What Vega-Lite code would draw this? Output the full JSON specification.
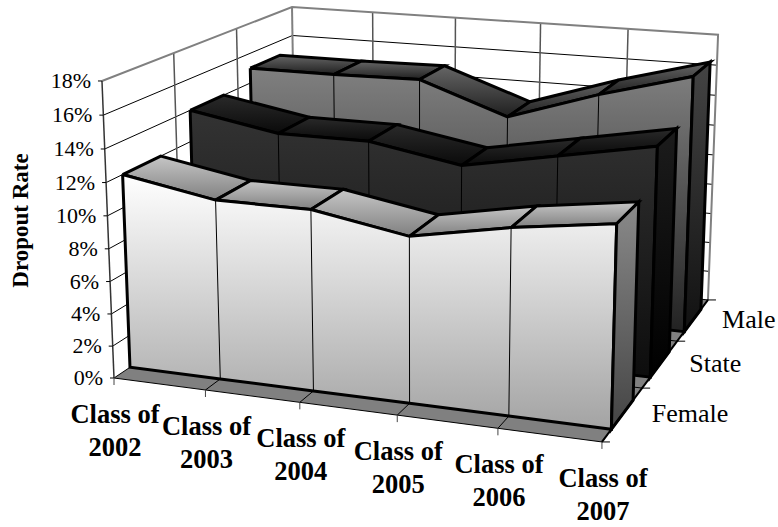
{"$schema":"https://vega.github.io/schema/vega-lite/v6.json","width":778,"height":527,"padding":0,"autosize":"none","background":"white","config":{"view":{"stroke":null}},
"datasets":{
"rates":[
{"series":"Female","year":2002,"value":12.0},{"series":"Female","year":2003,"value":11.0},{"series":"Female","year":2004,"value":11.0},{"series":"Female","year":2005,"value":10.0},{"series":"Female","year":2006,"value":11.1},{"series":"Female","year":2007,"value":11.9},
{"series":"State","year":2002,"value":14.0},{"series":"State","year":2003,"value":13.0},{"series":"State","year":2004,"value":13.0},{"series":"State","year":2005,"value":12.0},{"series":"State","year":2006,"value":13.1},{"series":"State","year":2007,"value":14.2},
{"series":"Male","year":2002,"value":15.0},{"series":"Male","year":2003,"value":15.0},{"series":"Male","year":2004,"value":15.1},{"series":"Male","year":2005,"value":13.1},{"series":"Male","year":2006,"value":15.0},{"series":"Male","year":2007,"value":16.6}],
"pct":[{"pct":0},{"pct":2},{"pct":4},{"pct":6},{"pct":8},{"pct":10},{"pct":12},{"pct":14},{"pct":16},{"pct":18}],
"classes":[{"year":2002,"label":"Class of\n2002"},{"year":2003,"label":"Class of\n2003"},{"year":2004,"label":"Class of\n2004"},{"year":2005,"label":"Class of\n2005"},{"year":2006,"label":"Class of\n2006"},{"year":2007,"label":"Class of\n2007"}],
"names":[{"name":"Female","idx":0},{"name":"State","idx":1},{"name":"Male","idx":2}],
"depths":[{"d":0},{"d":1},{"d":2},{"d":3}]},
"encoding":{"x":{"field":"px","type":"quantitative","scale":{"domain":[0,778],"nice":false,"zero":false},"axis":null},
"y":{"field":"py","type":"quantitative","scale":{"domain":[0,527],"nice":false,"zero":false,"reverse":true},"axis":{"title":"Dropout Rate","titleFont":"Liberation Serif","titleFontSize":23,"titleFontWeight":"bold","titleColor":"#000","titleX":32,"titleY":220,"ticks":false,"labels":false,"domain":false,"grid":false}},
"order":{"field":"ord"},"detail":{"field":"id"}},
"layer":[
{"data":{"name":"pct"},"transform":[{"filter":"datum.pct>0&&datum.pct<18"},{"calculate":"[0,1,2]","as":"k"},{"flatten":["k"]},{"calculate":"datum.k==2?1:0","as":"u"},{"calculate":"datum.k==0?0:1","as":"s"},{"calculate":"datum.pct/18","as":"v"},{"calculate":"(114+441.3*datum.u+242.5*datum.s-15.9*datum.v)/(1-0.0775*datum.u+0.2044*datum.s-0.038*datum.v)","as":"px"},{"calculate":"(378+29.7*datum.u-69.7*datum.s-300.1*datum.v)/(1-0.0775*datum.u+0.2044*datum.s-0.038*datum.v)","as":"py"},{"calculate":"datum.k","as":"ord"},{"calculate":"''+datum.pct","as":"id"}],"mark":{"type":"line","stroke":"#000","strokeWidth":1}},
{"data":{"name":"classes"},"transform":[{"filter":"datum.year>2002&&datum.year<2007"},{"calculate":"[0,1]","as":"k"},{"flatten":["k"]},{"calculate":"(datum.year-2002)/5","as":"u"},{"calculate":"1","as":"s"},{"calculate":"datum.k","as":"v"},{"calculate":"(114+441.3*datum.u+242.5*datum.s-15.9*datum.v)/(1-0.0775*datum.u+0.2044*datum.s-0.038*datum.v)","as":"px"},{"calculate":"(378+29.7*datum.u-69.7*datum.s-300.1*datum.v)/(1-0.0775*datum.u+0.2044*datum.s-0.038*datum.v)","as":"py"},{"calculate":"datum.k","as":"ord"},{"calculate":"''+datum.year","as":"id"}],"mark":{"type":"line","stroke":"#555","strokeWidth":1.5}},
{"data":{"name":"depths"},"transform":[{"filter":"datum.d==1||datum.d==2"},{"calculate":"[0,1]","as":"k"},{"flatten":["k"]},{"calculate":"0","as":"u"},{"calculate":"datum.d/3","as":"s"},{"calculate":"datum.k","as":"v"},{"calculate":"(114+441.3*datum.u+242.5*datum.s-15.9*datum.v)/(1-0.0775*datum.u+0.2044*datum.s-0.038*datum.v)","as":"px"},{"calculate":"(378+29.7*datum.u-69.7*datum.s-300.1*datum.v)/(1-0.0775*datum.u+0.2044*datum.s-0.038*datum.v)","as":"py"},{"calculate":"datum.k","as":"ord"},{"calculate":"''+datum.d","as":"id"}],"mark":{"type":"line","stroke":"#555","strokeWidth":1.5}},
{"data":{"name":"pct"},"transform":[{"filter":"datum.pct==18"},{"calculate":"[0,1,2,3]","as":"k"},{"flatten":["k"]},{"calculate":"datum.k>=2?1:0","as":"u"},{"calculate":"datum.k==0?0:1","as":"s"},{"calculate":"datum.k==3?0:1","as":"v"},{"calculate":"(114+441.3*datum.u+242.5*datum.s-15.9*datum.v)/(1-0.0775*datum.u+0.2044*datum.s-0.038*datum.v)","as":"px"},{"calculate":"(378+29.7*datum.u-69.7*datum.s-300.1*datum.v)/(1-0.0775*datum.u+0.2044*datum.s-0.038*datum.v)","as":"py"},{"calculate":"datum.k","as":"ord"},{"calculate":"'w'","as":"id"}],"mark":{"type":"line","stroke":"#808080","strokeWidth":2}},
{"data":{"name":"pct"},"transform":[{"filter":"datum.pct==18"},{"calculate":"[0,1]","as":"k"},{"flatten":["k"]},{"calculate":"0","as":"u"},{"calculate":"1","as":"s"},{"calculate":"datum.k","as":"v"},{"calculate":"(114+441.3*datum.u+242.5*datum.s-15.9*datum.v)/(1-0.0775*datum.u+0.2044*datum.s-0.038*datum.v)","as":"px"},{"calculate":"(378+29.7*datum.u-69.7*datum.s-300.1*datum.v)/(1-0.0775*datum.u+0.2044*datum.s-0.038*datum.v)","as":"py"},{"calculate":"datum.k","as":"ord"},{"calculate":"'r'","as":"id"}],"mark":{"type":"line","stroke":"#808080","strokeWidth":2}},
{"data":{"name":"pct"},"transform":[{"filter":"datum.pct==0"},{"calculate":"[0,1,2,3,4]","as":"k"},{"flatten":["k"]},{"calculate":"(datum.k==1||datum.k==2)?1:0","as":"u"},{"calculate":"(datum.k==2||datum.k==3)?1:0","as":"s"},{"calculate":"0","as":"v"},{"calculate":"(114+441.3*datum.u+242.5*datum.s-15.9*datum.v)/(1-0.0775*datum.u+0.2044*datum.s-0.038*datum.v)","as":"px"},{"calculate":"(378+29.7*datum.u-69.7*datum.s-300.1*datum.v)/(1-0.0775*datum.u+0.2044*datum.s-0.038*datum.v)","as":"py"},{"calculate":"datum.k","as":"ord"},{"calculate":"'f'","as":"id"}],"mark":{"type":"line","fill":"#808080","stroke":"#000","strokeWidth":1}},
{"data":{"name":"classes"},"transform":[{"filter":"datum.year>2002&&datum.year<2007"},{"calculate":"[0,1]","as":"k"},{"flatten":["k"]},{"calculate":"(datum.year-2002)/5","as":"u"},{"calculate":"datum.k","as":"s"},{"calculate":"0","as":"v"},{"calculate":"(114+441.3*datum.u+242.5*datum.s-15.9*datum.v)/(1-0.0775*datum.u+0.2044*datum.s-0.038*datum.v)","as":"px"},{"calculate":"(378+29.7*datum.u-69.7*datum.s-300.1*datum.v)/(1-0.0775*datum.u+0.2044*datum.s-0.038*datum.v)","as":"py"},{"calculate":"datum.k","as":"ord"},{"calculate":"''+datum.year","as":"id"}],"mark":{"type":"line","stroke":"#000","strokeWidth":1}},
{"data":{"name":"depths"},"transform":[{"filter":"datum.d==1||datum.d==2"},{"calculate":"[0,1]","as":"k"},{"flatten":["k"]},{"calculate":"datum.k","as":"u"},{"calculate":"datum.d/3","as":"s"},{"calculate":"0","as":"v"},{"calculate":"(114+441.3*datum.u+242.5*datum.s-15.9*datum.v)/(1-0.0775*datum.u+0.2044*datum.s-0.038*datum.v)","as":"px"},{"calculate":"(378+29.7*datum.u-69.7*datum.s-300.1*datum.v)/(1-0.0775*datum.u+0.2044*datum.s-0.038*datum.v)","as":"py"},{"calculate":"datum.k","as":"ord"},{"calculate":"''+datum.d","as":"id"}],"mark":{"type":"line","stroke":"#000","strokeWidth":1}},

{"data":{"name":"rates"},"transform":[{"filter":"datum.series=='Male'"},{"window":[{"op":"lead","field":"value","as":"next"}],"sort":[{"field":"year"}]},{"filter":"datum.year<2007"},{"calculate":"[0,1,2,3,4]","as":"k"},{"flatten":["k"]},{"calculate":"(datum.year-2002+((datum.k==1||datum.k==2)?1:0))/5","as":"u"},{"calculate":"0.74+((datum.k==2||datum.k==3)?0.18:0)","as":"s"},{"calculate":"((datum.k==1||datum.k==2)?datum.next:datum.value)/18","as":"v"},{"calculate":"(114+441.3*datum.u+242.5*datum.s-15.9*datum.v)/(1-0.0775*datum.u+0.2044*datum.s-0.038*datum.v)","as":"px"},{"calculate":"(378+29.7*datum.u-69.7*datum.s-300.1*datum.v)/(1-0.0775*datum.u+0.2044*datum.s-0.038*datum.v)","as":"py"},{"calculate":"datum.k","as":"ord"},{"calculate":"''+datum.year","as":"id"}],"mark":{"type":"line","stroke":"#000","strokeWidth":3,"fill":{"gradient":"linear","x1":0,"y1":0,"x2":0,"y2":1,"stops":[{"offset":0,"color":"#666666"},{"offset":1,"color":"#1f1f1f"}]}}},
{"data":{"name":"rates"},"transform":[{"filter":"datum.series=='Male'"},{"calculate":"datum.year==2002?[0,1,2]:[0,1]","as":"k"},{"flatten":["k"]},{"calculate":"(datum.year-2002)/5","as":"u"},{"calculate":"0.74","as":"s"},{"calculate":"datum.k==1?0:datum.value/18","as":"v"},{"calculate":"(114+441.3*datum.u+242.5*datum.s-15.9*datum.v)/(1-0.0775*datum.u+0.2044*datum.s-0.038*datum.v)","as":"px"},{"calculate":"(378+29.7*datum.u-69.7*datum.s-300.1*datum.v)/(1-0.0775*datum.u+0.2044*datum.s-0.038*datum.v)","as":"py"},{"calculate":"datum.k==1?11-(datum.year-2002):(datum.k==0?datum.year-2002:12)","as":"ord"},{"calculate":"'front'","as":"id"}],"mark":{"type":"line","stroke":"#000","strokeWidth":3,"fill":{"gradient":"linear","x1":0,"y1":0,"x2":0,"y2":1,"stops":[{"offset":0,"color":"#808080"},{"offset":1,"color":"#222222"}]}}},
{"data":{"name":"rates"},"transform":[{"filter":"datum.series=='Male'&&datum.year>2002&&datum.year<2007"},{"calculate":"[0,1]","as":"k"},{"flatten":["k"]},{"calculate":"(datum.year-2002)/5","as":"u"},{"calculate":"0.74","as":"s"},{"calculate":"datum.k==1?0:datum.value/18","as":"v"},{"calculate":"(114+441.3*datum.u+242.5*datum.s-15.9*datum.v)/(1-0.0775*datum.u+0.2044*datum.s-0.038*datum.v)","as":"px"},{"calculate":"(378+29.7*datum.u-69.7*datum.s-300.1*datum.v)/(1-0.0775*datum.u+0.2044*datum.s-0.038*datum.v)","as":"py"},{"calculate":"datum.k","as":"ord"},{"calculate":"''+datum.year","as":"id"}],"mark":{"type":"line","stroke":"#000","strokeWidth":1}},
{"data":{"name":"rates"},"transform":[{"filter":"datum.series=='Male'&&datum.year==2007"},{"calculate":"[0,1,2,3,4]","as":"k"},{"flatten":["k"]},{"calculate":"1","as":"u"},{"calculate":"0.74+((datum.k==2||datum.k==3)?0.18:0)","as":"s"},{"calculate":"(datum.k==1||datum.k==2)?0:datum.value/18","as":"v"},{"calculate":"(114+441.3*datum.u+242.5*datum.s-15.9*datum.v)/(1-0.0775*datum.u+0.2044*datum.s-0.038*datum.v)","as":"px"},{"calculate":"(378+29.7*datum.u-69.7*datum.s-300.1*datum.v)/(1-0.0775*datum.u+0.2044*datum.s-0.038*datum.v)","as":"py"},{"calculate":"datum.k","as":"ord"},{"calculate":"'side'","as":"id"}],"mark":{"type":"line","stroke":"#000","strokeWidth":3,"fill":{"gradient":"linear","x1":0,"y1":0,"x2":0,"y2":1,"stops":[{"offset":0,"color":"#444444"},{"offset":1,"color":"#111111"}]}}},

{"data":{"name":"rates"},"transform":[{"filter":"datum.series=='State'"},{"window":[{"op":"lead","field":"value","as":"next"}],"sort":[{"field":"year"}]},{"filter":"datum.year<2007"},{"calculate":"[0,1,2,3,4]","as":"k"},{"flatten":["k"]},{"calculate":"(datum.year-2002+((datum.k==1||datum.k==2)?1:0))/5","as":"u"},{"calculate":"0.407+((datum.k==2||datum.k==3)?0.18:0)","as":"s"},{"calculate":"((datum.k==1||datum.k==2)?datum.next:datum.value)/18","as":"v"},{"calculate":"(114+441.3*datum.u+242.5*datum.s-15.9*datum.v)/(1-0.0775*datum.u+0.2044*datum.s-0.038*datum.v)","as":"px"},{"calculate":"(378+29.7*datum.u-69.7*datum.s-300.1*datum.v)/(1-0.0775*datum.u+0.2044*datum.s-0.038*datum.v)","as":"py"},{"calculate":"datum.k","as":"ord"},{"calculate":"''+datum.year","as":"id"}],"mark":{"type":"line","stroke":"#000","strokeWidth":3,"fill":{"gradient":"linear","x1":0,"y1":0,"x2":0,"y2":1,"stops":[{"offset":0,"color":"#2a2a2a"},{"offset":1,"color":"#0a0a0a"}]}}},
{"data":{"name":"rates"},"transform":[{"filter":"datum.series=='State'"},{"calculate":"datum.year==2002?[0,1,2]:[0,1]","as":"k"},{"flatten":["k"]},{"calculate":"(datum.year-2002)/5","as":"u"},{"calculate":"0.407","as":"s"},{"calculate":"datum.k==1?0:datum.value/18","as":"v"},{"calculate":"(114+441.3*datum.u+242.5*datum.s-15.9*datum.v)/(1-0.0775*datum.u+0.2044*datum.s-0.038*datum.v)","as":"px"},{"calculate":"(378+29.7*datum.u-69.7*datum.s-300.1*datum.v)/(1-0.0775*datum.u+0.2044*datum.s-0.038*datum.v)","as":"py"},{"calculate":"datum.k==1?11-(datum.year-2002):(datum.k==0?datum.year-2002:12)","as":"ord"},{"calculate":"'front'","as":"id"}],"mark":{"type":"line","stroke":"#000","strokeWidth":3,"fill":{"gradient":"linear","x1":0,"y1":0,"x2":0,"y2":1,"stops":[{"offset":0,"color":"#333333"},{"offset":1,"color":"#0d0d0d"}]}}},
{"data":{"name":"rates"},"transform":[{"filter":"datum.series=='State'&&datum.year>2002&&datum.year<2007"},{"calculate":"[0,1]","as":"k"},{"flatten":["k"]},{"calculate":"(datum.year-2002)/5","as":"u"},{"calculate":"0.407","as":"s"},{"calculate":"datum.k==1?0:datum.value/18","as":"v"},{"calculate":"(114+441.3*datum.u+242.5*datum.s-15.9*datum.v)/(1-0.0775*datum.u+0.2044*datum.s-0.038*datum.v)","as":"px"},{"calculate":"(378+29.7*datum.u-69.7*datum.s-300.1*datum.v)/(1-0.0775*datum.u+0.2044*datum.s-0.038*datum.v)","as":"py"},{"calculate":"datum.k","as":"ord"},{"calculate":"''+datum.year","as":"id"}],"mark":{"type":"line","stroke":"#000","strokeWidth":1}},
{"data":{"name":"rates"},"transform":[{"filter":"datum.series=='State'&&datum.year==2007"},{"calculate":"[0,1,2,3,4]","as":"k"},{"flatten":["k"]},{"calculate":"1","as":"u"},{"calculate":"0.407+((datum.k==2||datum.k==3)?0.18:0)","as":"s"},{"calculate":"(datum.k==1||datum.k==2)?0:datum.value/18","as":"v"},{"calculate":"(114+441.3*datum.u+242.5*datum.s-15.9*datum.v)/(1-0.0775*datum.u+0.2044*datum.s-0.038*datum.v)","as":"px"},{"calculate":"(378+29.7*datum.u-69.7*datum.s-300.1*datum.v)/(1-0.0775*datum.u+0.2044*datum.s-0.038*datum.v)","as":"py"},{"calculate":"datum.k","as":"ord"},{"calculate":"'side'","as":"id"}],"mark":{"type":"line","stroke":"#000","strokeWidth":3,"fill":{"gradient":"linear","x1":0,"y1":0,"x2":0,"y2":1,"stops":[{"offset":0,"color":"#1c1c1c"},{"offset":1,"color":"#000000"}]}}},

{"data":{"name":"rates"},"transform":[{"filter":"datum.series=='Female'"},{"window":[{"op":"lead","field":"value","as":"next"}],"sort":[{"field":"year"}]},{"filter":"datum.year<2007"},{"calculate":"[0,1,2,3,4]","as":"k"},{"flatten":["k"]},{"calculate":"(datum.year-2002+((datum.k==1||datum.k==2)?1:0))/5","as":"u"},{"calculate":"0.074+((datum.k==2||datum.k==3)?0.18:0)","as":"s"},{"calculate":"((datum.k==1||datum.k==2)?datum.next:datum.value)/18","as":"v"},{"calculate":"(114+441.3*datum.u+242.5*datum.s-15.9*datum.v)/(1-0.0775*datum.u+0.2044*datum.s-0.038*datum.v)","as":"px"},{"calculate":"(378+29.7*datum.u-69.7*datum.s-300.1*datum.v)/(1-0.0775*datum.u+0.2044*datum.s-0.038*datum.v)","as":"py"},{"calculate":"datum.k","as":"ord"},{"calculate":"''+datum.year","as":"id"}],"mark":{"type":"line","stroke":"#000","strokeWidth":3,"fill":{"gradient":"linear","x1":0,"y1":0,"x2":0,"y2":1,"stops":[{"offset":0,"color":"#c6c6c6"},{"offset":1,"color":"#808080"}]}}},
{"data":{"name":"rates"},"transform":[{"filter":"datum.series=='Female'"},{"calculate":"datum.year==2002?[0,1,2]:[0,1]","as":"k"},{"flatten":["k"]},{"calculate":"(datum.year-2002)/5","as":"u"},{"calculate":"0.074","as":"s"},{"calculate":"datum.k==1?0:datum.value/18","as":"v"},{"calculate":"(114+441.3*datum.u+242.5*datum.s-15.9*datum.v)/(1-0.0775*datum.u+0.2044*datum.s-0.038*datum.v)","as":"px"},{"calculate":"(378+29.7*datum.u-69.7*datum.s-300.1*datum.v)/(1-0.0775*datum.u+0.2044*datum.s-0.038*datum.v)","as":"py"},{"calculate":"datum.k==1?11-(datum.year-2002):(datum.k==0?datum.year-2002:12)","as":"ord"},{"calculate":"'front'","as":"id"}],"mark":{"type":"line","stroke":"#000","strokeWidth":3,"fill":{"gradient":"linear","x1":0,"y1":0,"x2":0,"y2":1,"stops":[{"offset":0,"color":"#ffffff"},{"offset":1,"color":"#a3a3a3"}]}}},
{"data":{"name":"rates"},"transform":[{"filter":"datum.series=='Female'&&datum.year>2002&&datum.year<2007"},{"calculate":"[0,1]","as":"k"},{"flatten":["k"]},{"calculate":"(datum.year-2002)/5","as":"u"},{"calculate":"0.074","as":"s"},{"calculate":"datum.k==1?0:datum.value/18","as":"v"},{"calculate":"(114+441.3*datum.u+242.5*datum.s-15.9*datum.v)/(1-0.0775*datum.u+0.2044*datum.s-0.038*datum.v)","as":"px"},{"calculate":"(378+29.7*datum.u-69.7*datum.s-300.1*datum.v)/(1-0.0775*datum.u+0.2044*datum.s-0.038*datum.v)","as":"py"},{"calculate":"datum.k","as":"ord"},{"calculate":"''+datum.year","as":"id"}],"mark":{"type":"line","stroke":"#000","strokeWidth":1}},
{"data":{"name":"rates"},"transform":[{"filter":"datum.series=='Female'&&datum.year==2007"},{"calculate":"[0,1,2,3,4]","as":"k"},{"flatten":["k"]},{"calculate":"1","as":"u"},{"calculate":"0.074+((datum.k==2||datum.k==3)?0.18:0)","as":"s"},{"calculate":"(datum.k==1||datum.k==2)?0:datum.value/18","as":"v"},{"calculate":"(114+441.3*datum.u+242.5*datum.s-15.9*datum.v)/(1-0.0775*datum.u+0.2044*datum.s-0.038*datum.v)","as":"px"},{"calculate":"(378+29.7*datum.u-69.7*datum.s-300.1*datum.v)/(1-0.0775*datum.u+0.2044*datum.s-0.038*datum.v)","as":"py"},{"calculate":"datum.k","as":"ord"},{"calculate":"'side'","as":"id"}],"mark":{"type":"line","stroke":"#000","strokeWidth":3,"fill":{"gradient":"linear","x1":0,"y1":0,"x2":0,"y2":1,"stops":[{"offset":0,"color":"#8a8a8a"},{"offset":1,"color":"#444444"}]}}},

{"data":{"name":"pct"},"transform":[{"filter":"datum.pct==0"},{"calculate":"[0,1]","as":"k"},{"flatten":["k"]},{"calculate":"1","as":"u"},{"calculate":"datum.k","as":"s"},{"calculate":"0","as":"v"},{"calculate":"(114+441.3*datum.u+242.5*datum.s-15.9*datum.v)/(1-0.0775*datum.u+0.2044*datum.s-0.038*datum.v)","as":"px"},{"calculate":"(378+29.7*datum.u-69.7*datum.s-300.1*datum.v)/(1-0.0775*datum.u+0.2044*datum.s-0.038*datum.v)","as":"py"},{"calculate":"datum.k","as":"ord"},{"calculate":"'e'","as":"id"}],"mark":{"type":"line","stroke":"#000","strokeWidth":2}},
{"data":{"name":"pct"},"transform":[{"filter":"datum.pct==18"},{"calculate":"[0,1]","as":"k"},{"flatten":["k"]},{"calculate":"0","as":"u"},{"calculate":"0","as":"s"},{"calculate":"datum.k","as":"v"},{"calculate":"(114+441.3*datum.u+242.5*datum.s-15.9*datum.v)/(1-0.0775*datum.u+0.2044*datum.s-0.038*datum.v)","as":"px"},{"calculate":"(378+29.7*datum.u-69.7*datum.s-300.1*datum.v)/(1-0.0775*datum.u+0.2044*datum.s-0.038*datum.v)","as":"py"},{"calculate":"datum.k","as":"ord"},{"calculate":"'l'","as":"id"}],"mark":{"type":"line","stroke":"#333","strokeWidth":1.5}},
{"data":{"name":"pct"},"transform":[{"calculate":"[0,1]","as":"k"},{"flatten":["k"]},{"calculate":"0","as":"u"},{"calculate":"0","as":"s"},{"calculate":"datum.pct/18","as":"v"},{"calculate":"(114+441.3*datum.u+242.5*datum.s-15.9*datum.v)/(1-0.0775*datum.u+0.2044*datum.s-0.038*datum.v)-datum.k*4","as":"px"},{"calculate":"(378+29.7*datum.u-69.7*datum.s-300.1*datum.v)/(1-0.0775*datum.u+0.2044*datum.s-0.038*datum.v)","as":"py"},{"calculate":"datum.k","as":"ord"},{"calculate":"''+datum.pct","as":"id"}],"mark":{"type":"line","stroke":"#000","strokeWidth":1}},
{"data":{"name":"classes"},"transform":[{"calculate":"[0,1]","as":"k"},{"flatten":["k"]},{"calculate":"(datum.year-2002)/5","as":"u"},{"calculate":"0","as":"s"},{"calculate":"0","as":"v"},{"calculate":"(114+441.3*datum.u+242.5*datum.s-15.9*datum.v)/(1-0.0775*datum.u+0.2044*datum.s-0.038*datum.v)","as":"px"},{"calculate":"(378+29.7*datum.u-69.7*datum.s-300.1*datum.v)/(1-0.0775*datum.u+0.2044*datum.s-0.038*datum.v)+datum.k*7","as":"py"},{"calculate":"datum.k","as":"ord"},{"calculate":"''+datum.year","as":"id"}],"mark":{"type":"line","stroke":"#444","strokeWidth":1}},
{"data":{"name":"depths"},"transform":[{"calculate":"[0,1]","as":"k"},{"flatten":["k"]},{"calculate":"1","as":"u"},{"calculate":"datum.d/3","as":"s"},{"calculate":"0","as":"v"},{"calculate":"(114+441.3*datum.u+242.5*datum.s-15.9*datum.v)/(1-0.0775*datum.u+0.2044*datum.s-0.038*datum.v)+datum.k*8","as":"px"},{"calculate":"(378+29.7*datum.u-69.7*datum.s-300.1*datum.v)/(1-0.0775*datum.u+0.2044*datum.s-0.038*datum.v)","as":"py"},{"calculate":"datum.k","as":"ord"},{"calculate":"''+datum.d","as":"id"}],"mark":{"type":"line","stroke":"#000","strokeWidth":1}},

{"data":{"name":"pct"},"transform":[{"calculate":"0","as":"u"},{"calculate":"0","as":"s"},{"calculate":"datum.pct/18","as":"v"},{"calculate":"(114+441.3*datum.u+242.5*datum.s-15.9*datum.v)/(1-0.0775*datum.u+0.2044*datum.s-0.038*datum.v)-11","as":"px"},{"calculate":"(378+29.7*datum.u-69.7*datum.s-300.1*datum.v)/(1-0.0775*datum.u+0.2044*datum.s-0.038*datum.v)","as":"py"},{"calculate":"datum.pct+'%'","as":"lab"},{"calculate":"datum.pct","as":"ord"},{"calculate":"''+datum.pct","as":"id"}],"mark":{"type":"text","font":"Liberation Serif","fontSize":22,"align":"right","baseline":"middle","color":"#000"},"encoding":{"text":{"field":"lab"}}},
{"data":{"name":"classes"},"transform":[{"calculate":"(datum.year-2002)/5","as":"u"},{"calculate":"0","as":"s"},{"calculate":"0","as":"v"},{"calculate":"(114+441.3*datum.u+242.5*datum.s-15.9*datum.v)/(1-0.0775*datum.u+0.2044*datum.s-0.038*datum.v)+1","as":"px"},{"calculate":"(378+29.7*datum.u-69.7*datum.s-300.1*datum.v)/(1-0.0775*datum.u+0.2044*datum.s-0.038*datum.v)+45","as":"py"},{"calculate":"datum.year","as":"ord"},{"calculate":"''+datum.year","as":"id"}],"mark":{"type":"text","font":"Liberation Serif","fontSize":26.5,"fontWeight":"bold","align":"center","baseline":"alphabetic","lineBreak":"\n","lineHeight":33,"color":"#000"},"encoding":{"text":{"field":"label"}}},
{"data":{"name":"names"},"transform":[{"calculate":"1","as":"u"},{"calculate":"(datum.idx+0.5)/3","as":"s"},{"calculate":"0","as":"v"},{"calculate":"(114+441.3*datum.u+242.5*datum.s-15.9*datum.v)/(1-0.0775*datum.u+0.2044*datum.s-0.038*datum.v)+29","as":"px"},{"calculate":"(378+29.7*datum.u-69.7*datum.s-300.1*datum.v)/(1-0.0775*datum.u+0.2044*datum.s-0.038*datum.v)","as":"py"},{"calculate":"datum.idx","as":"ord"},{"calculate":"datum.name","as":"id"}],"mark":{"type":"text","font":"Liberation Serif","fontSize":26,"align":"left","baseline":"middle","color":"#000"},"encoding":{"text":{"field":"name"}}}
]}
